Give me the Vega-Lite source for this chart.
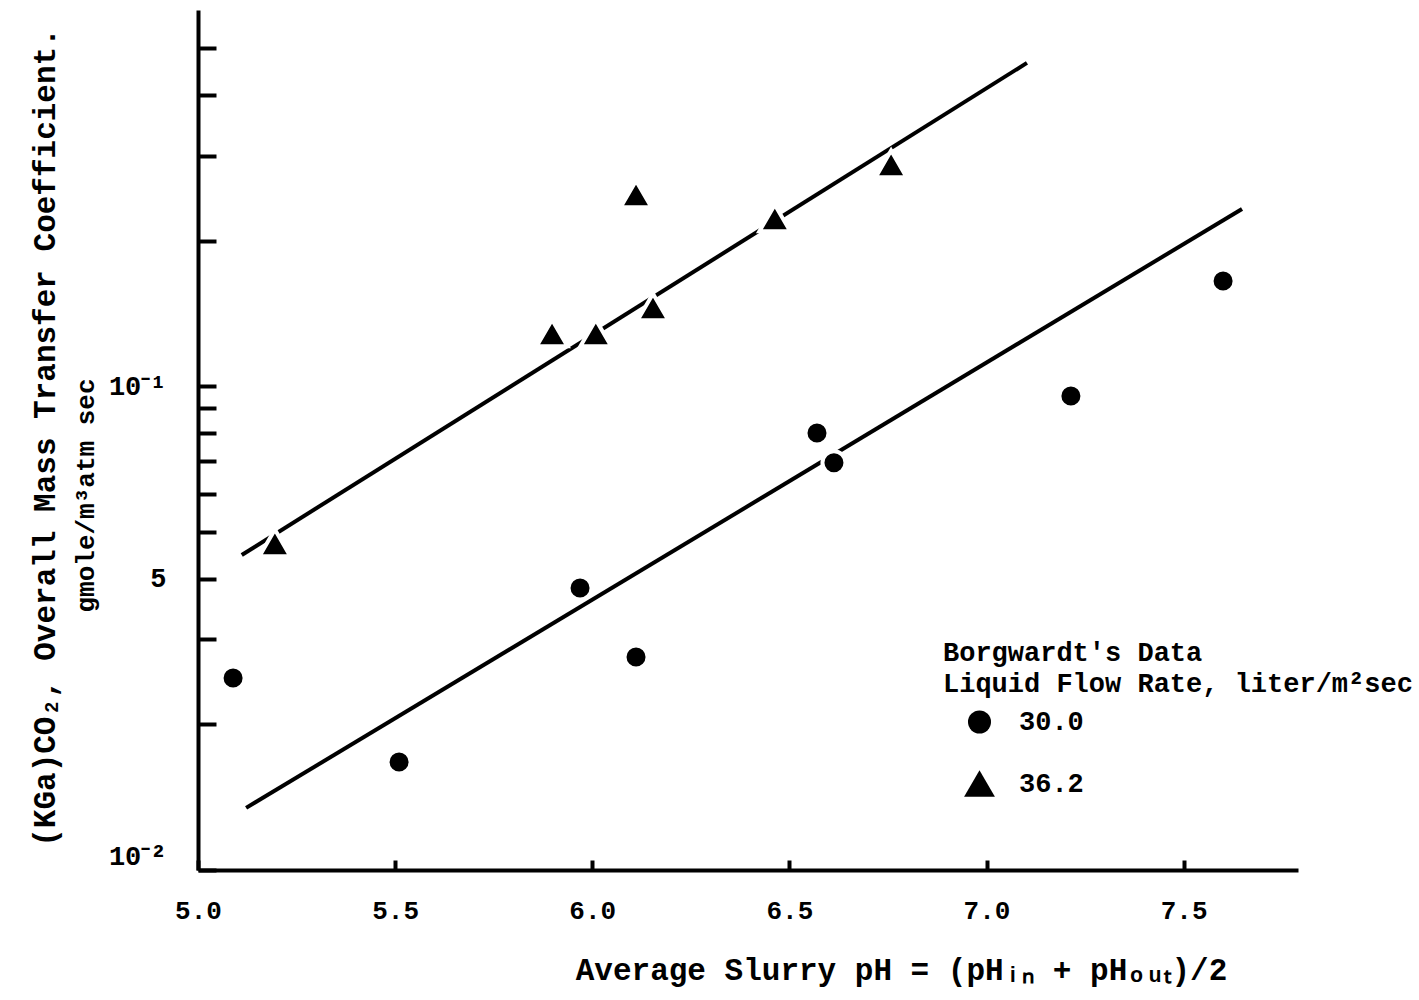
{
  "$schema": "https://vega.github.io/schema/vega-lite/v6.json",
  "width": 1100,
  "height": 860,
  "autosize": {"type": "none"},
  "padding": {"left": 198, "top": 10, "right": 121, "bottom": 130},
  "background": "white",
  "config": {
    "view": {"stroke": null},
    "font": "Liberation Mono",
    "axis": {
      "grid": false,
      "domainColor": "black",
      "domainWidth": 4,
      "tickColor": "black",
      "tickWidth": 4,
      "labelColor": "black",
      "titleColor": "black",
      "labelFont": "Liberation Mono",
      "titleFont": "Liberation Mono",
      "labelFontWeight": "bold",
      "titleFontWeight": "bold"
    }
  },
  "datasets": {
    "points": [
      {"ph": 5.089, "kga": 0.02495, "rate": "30.0"},
      {"ph": 5.510, "kga": 0.01672, "rate": "30.0"},
      {"ph": 5.969, "kga": 0.03829, "rate": "30.0"},
      {"ph": 6.111, "kga": 0.02756, "rate": "30.0"},
      {"ph": 6.570, "kga": 0.0801, "rate": "30.0"},
      {"ph": 6.613, "kga": 0.0695, "rate": "30.0"},
      {"ph": 7.214, "kga": 0.0955, "rate": "30.0"},
      {"ph": 7.600, "kga": 0.1652, "rate": "30.0"},
      {"ph": 5.195, "kga": 0.04746, "rate": "36.2"},
      {"ph": 5.898, "kga": 0.1289, "rate": "36.2"},
      {"ph": 6.009, "kga": 0.1289, "rate": "36.2"},
      {"ph": 6.111, "kga": 0.2499, "rate": "36.2"},
      {"ph": 6.154, "kga": 0.1459, "rate": "36.2"},
      {"ph": 6.463, "kga": 0.2229, "rate": "36.2"},
      {"ph": 6.758, "kga": 0.2884, "rate": "36.2"}
    ],
    "fits": [
      {"fit": "A", "ph": 5.111, "kga": 0.04481},
      {"fit": "A", "ph": 7.1025, "kga": 0.4664},
      {"fit": "B", "ph": 5.122, "kga": 0.01344},
      {"fit": "B", "ph": 7.648, "kga": 0.2327}
    ]
  },
  "resolve": {"axis": {"y": "independent"}},
  "layer": [
    {
      "data": {"name": "fits"},
      "mark": {"type": "line", "color": "black", "strokeWidth": 4},
      "encoding": {
        "x": {"field": "ph", "type": "quantitative", "scale": {"domain": [5.0, 7.79], "nice": false, "zero": false}},
        "y": {
          "field": "kga", "type": "quantitative",
          "scale": {"type": "log", "domain": [0.01, 0.6], "nice": false},
          "axis": {
            "orient": "left", "domain": false, "ticks": false, "labels": false, "grid": false,
            "title": "gmole/m³atm sec", "titleFontSize": 26, "titleAngle": -90,
            "titleX": -113, "titleY": 485, "titleBaseline": "middle", "titleAlign": "center"
          }
        },
        "detail": {"field": "fit"}
      }
    },
    {
      "data": {"name": "points"},
      "mark": {"type": "point", "filled": true, "fill": "black", "stroke": "white", "strokeWidth": 4, "opacity": 1},
      "encoding": {
        "x": {
          "field": "ph", "type": "quantitative",
          "scale": {"domain": [5.0, 7.79], "nice": false, "zero": false},
          "axis": {
            "values": [5.0, 5.5, 6.0, 6.5, 7.0, 7.5], "format": ".1f",
            "tickSize": -10, "labelPadding": 37, "labelFontSize": 26, "labelFlush": false, "labelOverlap": false,
            "title": "Average Slurry pH = (pHᵢₙ + pHₒᵤₜ)/2", "titleFontSize": 31, "titleLimit": 1000,
            "titleX": 703, "titleY": 100, "titleBaseline": "middle", "titleAlign": "center"
          }
        },
        "y": {
          "field": "kga", "type": "quantitative",
          "scale": {"type": "log", "domain": [0.01, 0.6], "nice": false},
          "axis": {
            "orient": "left",
            "values": [0.01, 0.02, 0.03, 0.04, 0.05, 0.06, 0.07, 0.08, 0.09, 0.1, 0.2, 0.3, 0.4, 0.5],
            "labelExpr": "datum.value == 0.01 ? '10⁻²' : (datum.value == 0.1 ? '10⁻¹' : (datum.value == 0.04 ? '5' : ''))",
            "tickSize": -18, "labelPadding": 50, "labelFontSize": 27, "labelFlush": true, "labelOverlap": false,
            "title": "(KGa)CO₂, Overall Mass Transfer Coefficient.", "titleFontSize": 31, "titleAngle": -90, "titleLimit": 1000,
            "titleX": -153, "titleY": 427, "titleBaseline": "middle", "titleAlign": "center"
          }
        },
        "shape": {
          "field": "rate", "type": "ordinal",
          "scale": {"domain": ["30.0", "36.2"], "range": ["circle", "triangle-up"]},
          "legend": {
            "title": ["Borgwardt's Data", "Liquid Flow Rate, liter/m²sec"],
            "orient": "none", "legendX": 745, "legendY": 630, "padding": 0, "titleLimit": 1000,
            "titleFont": "Liberation Mono", "labelFont": "Liberation Mono",
            "titleFontSize": 27, "labelFontSize": 27, "titleFontWeight": "bold", "labelFontWeight": "bold",
            "titleColor": "black", "labelColor": "black", "titleLineHeight": 31,
            "titlePadding": 10, "rowPadding": 20, "symbolOffset": 19, "labelOffset": 22,
            "symbolFillColor": "black", "symbolStrokeColor": "white", "symbolStrokeWidth": 4
          }
        },
        "size": {
          "field": "rate", "type": "ordinal",
          "scale": {"domain": ["30.0", "36.2"], "range": [530, 950]},
          "legend": {
            "title": ["Borgwardt's Data", "Liquid Flow Rate, liter/m²sec"],
            "orient": "none", "legendX": 745, "legendY": 630, "padding": 0, "titleLimit": 1000,
            "titleFont": "Liberation Mono", "labelFont": "Liberation Mono",
            "titleFontSize": 27, "labelFontSize": 27, "titleFontWeight": "bold", "labelFontWeight": "bold",
            "titleColor": "black", "labelColor": "black", "titleLineHeight": 31,
            "titlePadding": 10, "rowPadding": 20, "symbolOffset": 19, "labelOffset": 22,
            "symbolFillColor": "black", "symbolStrokeColor": "white", "symbolStrokeWidth": 4
          }
        }
      }
    }
  ]
}
